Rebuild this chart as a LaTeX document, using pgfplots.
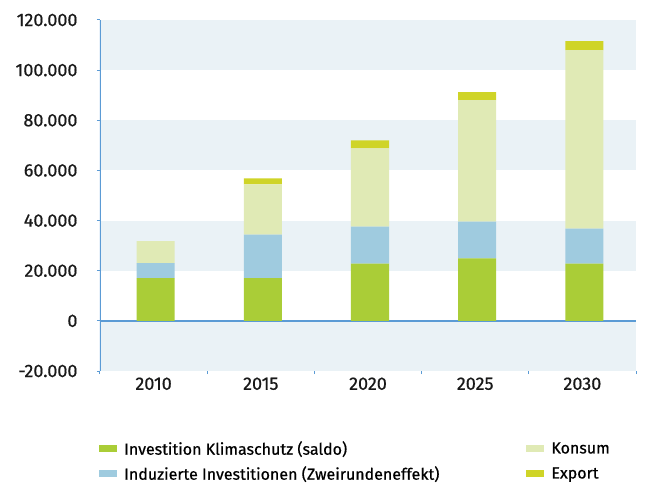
\documentclass[border=0pt]{standalone}
\usepackage{pgfplots}
\pgfplotsset{compat=1.18}
\usepackage{fontspec}
\setmainfont{Fira Sans}[FakeBold=0.6]
\newfontfamily\medfont{Fira Sans}[FakeBold=0.6]
\definecolor{cGreen}{HTML}{AACD37}
\definecolor{cBlue}{HTML}{9FCBDF}
\definecolor{cKonsum}{HTML}{E0EAB5}
\definecolor{cExport}{HTML}{CFD427}
\definecolor{cBand}{HTML}{EAF2F6}
\definecolor{cAxis}{HTML}{5B9BD5}
\begin{document}
\begin{tikzpicture}
\path[use as bounding box] (-100pt,-114pt) rectangle (553pt,371pt);
\begin{axis}[
  scale only axis, width=536pt, height=351pt,
  at={(0pt,0pt)}, anchor=south west,
  ybar stacked, bar width=38pt,
  xmin=-0.5, xmax=4.5, ymin=-20000, ymax=120000,
  separate axis lines,
  axis y line*=left, axis x line*=bottom,
  x axis line style={draw=none},
  y axis line style={draw=none},
  xtick={-0.5,0.5,1.5,2.5,3.5,4.5},
  x tick label as interval,
  xticklabels={2010,2015,2020,2025,2030},
  ytick={-20000,0,20000,40000,60000,80000,100000,120000},
  extra y ticks={-10000,30000,70000,110000},
  extra y tick labels={},
  extra y tick style={grid=major, major grid style={cBand, line width=50.2pt}, major tick length=0pt},
  scaled y ticks=false,
  /pgf/number format/fixed, /pgf/number format/1000 sep={.},
  /pgf/number format/assume math mode=true,
  tick align=outside, major tick length=3pt,
  tick style={cAxis, line width=1pt},
  ticklabel style={font=\medfont\fontsize{18}{20}\selectfont, color=black!90},
  yticklabel style={xshift=-16pt},
  legend style={draw=none, fill=none, at={(rel axis cs:0,0)}, anchor=north west,
     yshift=-66pt, xshift=-4pt, font=\medfont\fontsize{16}{18}\selectfont,
     /tikz/every odd column/.append style={column sep=5pt},
     /tikz/every even column/.append style={column sep=85pt}, row sep=6pt},
  legend columns=2, transpose legend,
  legend cell align=left,
  legend image code/.code={\fill[#1,draw=none] (0pt,-3.5pt) rectangle (18pt,3.5pt);},
]
\addplot[fill=cGreen, draw=none, bar shift=2pt] coordinates {(0,17000)(1,17000)(2,22800)(3,24900)(4,22800)};
\addlegendentry{Investition Klimaschutz (saldo)}
\addplot[fill=cBlue, draw=none, bar shift=2pt] coordinates {(0,6000)(1,17400)(2,14800)(3,14700)(4,14000)};
\addlegendentry{Induzierte Investitionen (Zweirundeneffekt)}
\addplot[fill=cKonsum, draw=none, bar shift=2pt] coordinates {(0,8800)(1,20000)(2,31200)(3,48400)(4,71200)};
\addlegendentry{Konsum}
\addplot[fill=cExport, draw=none, bar shift=2pt] coordinates {(0,0)(1,2400)(2,3200)(3,3200)(4,3600)};
\addlegendentry{Export}
\draw[cAxis, line width=1.5pt] (axis cs:-0.5,0) -- (axis cs:4.5,0);
\draw[cAxis, line width=1.2pt] (axis cs:-0.5,-20000) -- (axis cs:-0.5,120000);
\end{axis}
\end{tikzpicture}
\end{document}
